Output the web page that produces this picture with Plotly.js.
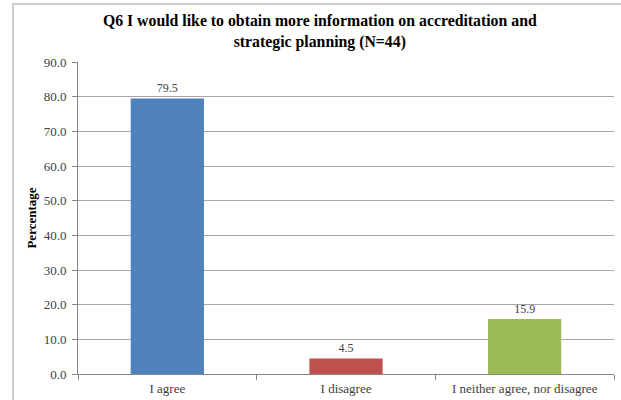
<!DOCTYPE html>
<html>
<head>
<meta charset="utf-8">
<script src="https://cdn.plot.ly/plotly-3.0.1.min.js"></script>
<style>html,body{margin:0;padding:0;background:#fff;}#chart{width:621px;height:400px;}</style>
</head>
<body>
<div id="chart"></div>
<script>
const categories = ["I agree", "I disagree", "I neither agree, nor disagree"];
const values = [79.5, 4.5, 15.9];
const barColors = ["#4F81BD", "#C0504D", "#9BBB59"];
const yTicks = [0, 10, 20, 30, 40, 50, 60, 70, 80, 90];

const serif = "'Liberation Serif', 'Times New Roman', serif";
const trace = {
  type: "bar",
  x: categories,
  y: values,
  marker: {color: barColors},
  text: values.map(v => v.toFixed(1)),
  textposition: "outside",
  cliponaxis: false,
  textfont: {family: serif, size: 12, color: "#404040"},
  hoverinfo: "none"
};
const layout = {
  width: 621, height: 400,
  margin: {l: 78, r: 7, t: 62, b: 26},
  paper_bgcolor: "#ffffff",
  plot_bgcolor: "#ffffff",
  bargap: 0.59,
  showlegend: false,
  title: {
    text: "<b>Q6 I would like to obtain more information on accreditation and<br>strategic planning (N=44)</b>",
    font: {family: serif, size: 15.8, color: "#000000"},
    x: 0.515, xanchor: "center", y: 0.935, yanchor: "top"
  },
  xaxis: {
    type: "category",
    showline: true, linecolor: "#868686", linewidth: 1,
    ticks: "outside", ticklen: 5, tickcolor: "#868686", tickson: "boundaries",
    tickfont: {family: serif, size: 13, color: "#404040"},
    ticklabelstandoff: 2,
    showgrid: false, zeroline: false, fixedrange: true
  },
  yaxis: {
    range: [0, 90], tickvals: yTicks, ticktext: yTicks.map(v => v.toFixed(1)),
    showline: true, linecolor: "#868686", linewidth: 1,
    ticks: "outside", ticklen: 5, tickcolor: "#868686",
    showgrid: true, gridcolor: "#a6a6a6", gridwidth: 1,
    zeroline: false,
    tickfont: {family: serif, size: 13, color: "#404040"},
    ticklabelstandoff: 3,
    title: {text: "<b>Percentage</b>", font: {family: serif, size: 13, color: "#000000"}, standoff: 4},
    fixedrange: true
  },
  shapes: [{
    type: "rect", xref: "paper", yref: "paper",
    x0: (13 - 78) / 536, x1: 1.5, y0: -1, y1: (374 - 4) / 312,
    line: {color: "#bfbfbf", width: 1.5}, fillcolor: "rgba(0,0,0,0)", layer: "below"
  }]
};
Plotly.newPlot("chart", [trace], layout, {displayModeBar: false, staticPlot: true});
</script>
</body>
</html>
